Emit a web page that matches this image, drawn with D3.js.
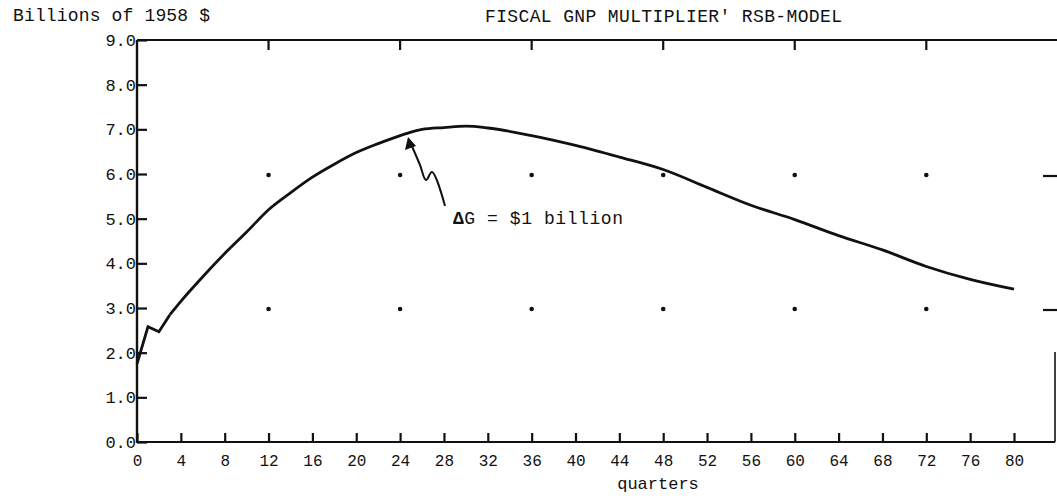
<!DOCTYPE html>
<html>
<head>
<meta charset="utf-8">
<script src="https://cdn.jsdelivr.net/npm/d3@7"></script>
<style>
  body { margin: 0; background: #fff; }
  svg text { font-family: "Liberation Mono", "DejaVu Sans Mono", monospace; fill: #111; }
</style>
</head>
<body>
<div id="chart"></div>
<script>
// GNP response (billions of 1958 $) to a $1 billion rise in G, by quarter
const quarters = [0, 1, 2, 3, 4, 6, 8, 10, 12, 14, 16, 18, 20, 22, 24, 26, 28, 30, 32,
  36, 40, 44, 48, 52, 56, 60, 64, 68, 72, 76, 80];
const multiplier = [1.75, 2.58, 2.47, 2.85, 3.15, 3.7, 4.22, 4.7, 5.2, 5.58, 5.93, 6.22, 6.48, 6.68, 6.86, 7.0, 7.04, 7.07, 7.03,
  6.86, 6.64, 6.38, 6.1, 5.7, 5.3, 4.98, 4.62, 4.3, 3.93, 3.64, 3.42];

const xTicks = d3.range(0, 81, 4);
const yTicks = d3.range(0, 9.1, 1);
const gridX = [12, 24, 36, 48, 60, 72];
const gridY = [3, 6];

const width = 1057, height = 498;

const svg = d3.select('#chart').append('svg')
  .attr('width', width)
  .attr('height', height);

const x = d3.scaleLinear().domain([0, 80]).range([137, 1014]);
const y = d3.scaleLinear().domain([0, 9]).range([442, 40]);
const xRight = 1055;

// frame lines
svg.append('line').attr('x1', x(0)).attr('x2', width).attr('y1', y(9)).attr('y2', y(9))
  .attr('stroke', '#111').attr('stroke-width', 2.2);
svg.append('line').attr('x1', x(0)).attr('x2', xRight).attr('y1', y(0)).attr('y2', y(0))
  .attr('stroke', '#111').attr('stroke-width', 2.2);
svg.append('line').attr('x1', x(0)).attr('x2', x(0)).attr('y1', y(9)).attr('y2', y(0) + 1)
  .attr('stroke', '#111').attr('stroke-width', 2.4);
svg.append('line').attr('x1', xRight).attr('x2', xRight).attr('y1', 352).attr('y2', y(0))
  .attr('stroke', '#111').attr('stroke-width', 1.6);

// bottom axis, ticks pointing up
const xAxis = svg.append('g')
  .attr('transform', `translate(0,${y(0)})`)
  .call(d3.axisBottom(x).tickValues(xTicks).tickSizeInner(-9).tickSizeOuter(0).tickPadding(13)
    .tickFormat(d3.format('d')));
xAxis.select('.domain').remove();
xAxis.selectAll('.tick line').attr('stroke', '#111').attr('stroke-width', 2.2);
xAxis.selectAll('.tick text').style('font-size', '16px');

// left axis, ticks pointing right
const yAxis = svg.append('g')
  .attr('transform', `translate(${x(0)},0)`)
  .call(d3.axisLeft(y).tickValues(yTicks).tickSizeInner(-10).tickSizeOuter(0).tickPadding(1)
    .tickFormat(d3.format('.1f')));
yAxis.select('.domain').remove();
yAxis.selectAll('.tick line').attr('stroke', '#111').attr('stroke-width', 2.2);
yAxis.selectAll('.tick text').style('font-size', '17px');

// top ticks hanging down
svg.append('g').selectAll('line').data(gridX).join('line')
  .attr('x1', d => x(d)).attr('x2', d => x(d))
  .attr('y1', y(9)).attr('y2', y(9) + 10)
  .attr('stroke', '#111').attr('stroke-width', 2.2);

// right ticks pointing left
svg.append('g').selectAll('line').data(gridY).join('line')
  .attr('x1', xRight - 12).attr('x2', xRight + 2)
  .attr('y1', d => y(d) + 2).attr('y2', d => y(d) + 2)
  .attr('stroke', '#111').attr('stroke-width', 2.2);

// grid dots
const dots = [];
gridX.forEach(gx => gridY.forEach(gy => dots.push([gx, gy])));
svg.append('g').selectAll('circle').data(dots).join('circle')
  .attr('cx', d => x(d[0])).attr('cy', d => y(d[1]) + 1)
  .attr('r', 2.3).attr('fill', '#111');

// the curve: sharp kink over the first quarters, smooth after
const pts = quarters.map((q, i) => [q, multiplier[i]]);
const kink = 3;
svg.append('path')
  .datum(pts.slice(0, kink + 1))
  .attr('d', d3.line().x(d => x(d[0])).y(d => y(d[1])))
  .attr('fill', 'none')
  .attr('stroke', '#111')
  .attr('stroke-width', 2.8)
  .attr('stroke-linejoin', 'miter');
svg.append('path')
  .datum(pts.slice(kink))
  .attr('d', d3.line().x(d => x(d[0])).y(d => y(d[1])).curve(d3.curveMonotoneX))
  .attr('fill', 'none')
  .attr('stroke', '#111')
  .attr('stroke-width', 2.8)
  .attr('stroke-linejoin', 'round');

// annotation arrow
const arrowPts = [[445, 206], [432, 172], [426, 180], [420, 165], [411, 144]];
svg.append('path')
  .attr('d', d3.line().curve(d3.curveCatmullRom)(arrowPts))
  .attr('fill', 'none').attr('stroke', '#111').attr('stroke-width', 2);
svg.append('path')
  .attr('d', 'M408,137 L405,150 L416,146 Z')
  .attr('fill', '#111');

const note = svg.append('text')
  .attr('x', 453).attr('y', 224)
  .style('font-size', '18px')
  .attr('textLength', 170);
note.append('tspan').style('font-weight', 'bold').text('Δ');
note.append('tspan').text('G = $1 billion');

// titles
svg.append('text')
  .attr('x', 13).attr('y', 21)
  .style('font-size', '18px')
  .attr('textLength', 197)
  .text('Billions of 1958 $');

svg.append('text')
  .attr('x', 485).attr('y', 22)
  .style('font-size', '18px')
  .attr('textLength', 357)
  .text("FISCAL GNP MULTIPLIER'  RSB-MODEL");

svg.append('text')
  .attr('x', 658).attr('y', 489)
  .attr('text-anchor', 'middle')
  .style('font-size', '17px')
  .text('quarters');
</script>
</body>
</html>
